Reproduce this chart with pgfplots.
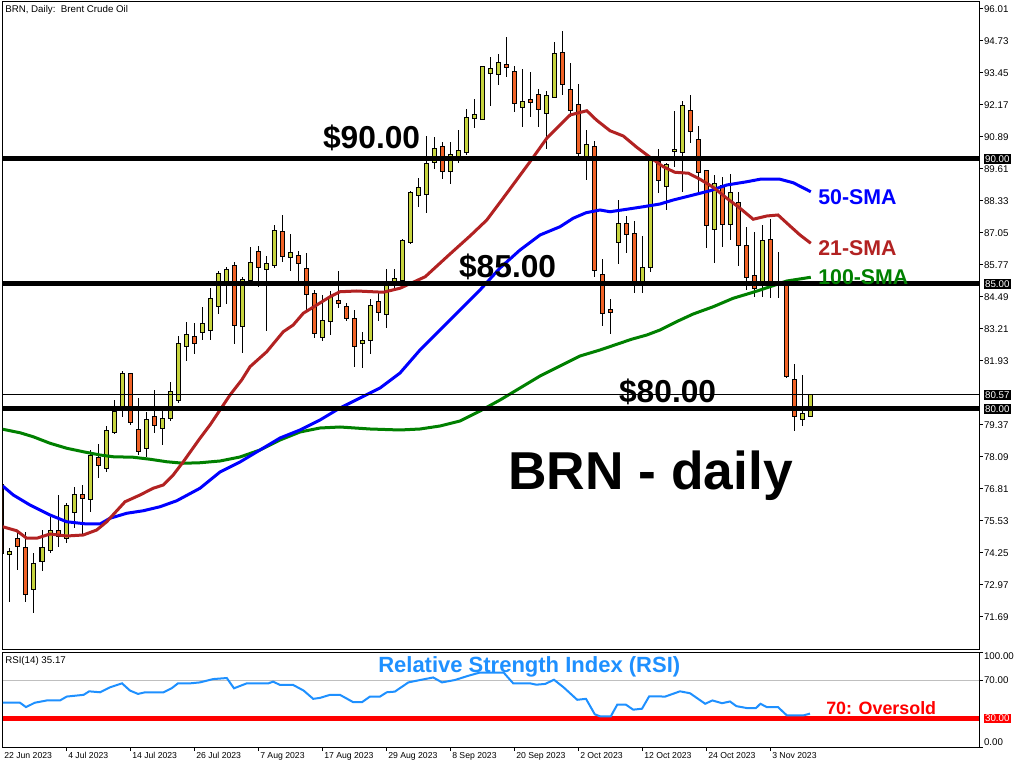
\documentclass[border=0pt]{standalone}
\usepackage{pgfplots}
\pgfplotsset{compat=1.18}
\usepackage{pgfplotstable}
\usepackage{fontspec}
\setmainfont{Liberation Sans}

\definecolor{bullc}{RGB}{198,212,62}
\definecolor{bearc}{RGB}{240,98,38}
\definecolor{sma21}{RGB}{178,34,34}
\definecolor{sma50}{RGB}{0,0,255}
\definecolor{sma100}{RGB}{0,128,0}
\definecolor{rsic}{RGB}{30,144,255}

\newcommand\tl{\fontsize{7.3}{8}\selectfont}
\newcommand\dl{\fontsize{6.5}{7}\selectfont}

% BRN daily candles: bar index, open, high, low, close
\pgfplotstableread{
i O H L C
0 76.96 77.05 74.10 74.23
1 74.20 74.45 72.30 74.30
2 74.80 75.03 73.56 74.50
3 74.47 75.09 72.29 72.60
4 72.80 74.23 71.85 73.80
5 73.90 75.16 73.53 74.47
6 74.33 75.67 74.23 75.13
7 75.13 76.56 74.49 74.90
8 74.83 76.23 74.65 76.12
9 75.85 76.89 75.23 76.55
10 76.55 76.96 75.00 76.43
11 76.40 78.36 75.89 78.12
12 78.03 78.60 77.25 77.75
13 77.63 79.32 77.49 79.12
14 79.09 80.36 79.00 79.89
15 80.09 81.52 79.69 81.43
16 81.39 81.44 79.36 79.45
17 79.16 80.43 78.16 78.29
18 78.43 79.89 78.07 79.56
19 79.67 80.76 79.05 79.33
20 79.23 80.12 78.56 79.59
21 79.63 81.09 79.53 80.67
22 80.36 82.92 80.25 82.63
23 82.53 83.48 81.93 82.96
24 82.87 83.43 82.19 82.61
25 83.07 84.09 82.76 83.40
26 83.15 84.83 82.76 84.43
27 84.13 85.53 83.80 85.40
28 85.13 85.69 84.20 85.59
29 85.72 85.89 82.60 83.33
30 83.33 85.29 82.25 85.16
31 85.13 86.49 84.96 85.83
32 86.28 86.52 84.87 85.65
33 85.59 86.12 83.13 85.83
34 85.75 87.36 85.65 87.12
35 87.07 87.76 85.89 86.09
36 86.07 87.00 85.53 86.23
37 86.12 86.32 85.13 85.83
38 85.63 86.23 83.96 84.59
39 84.59 84.76 82.83 83.01
40 82.87 84.56 82.73 83.52
41 83.51 84.73 82.96 84.49
42 84.32 85.53 84.03 84.23
43 84.09 84.23 83.53 83.63
44 83.60 83.96 81.69 82.53
45 82.63 83.09 81.63 82.72
46 82.75 84.40 82.20 84.15
47 84.27 84.63 83.53 83.87
48 83.79 85.60 83.25 84.92
49 85.03 85.60 84.76 85.20
50 85.16 86.80 85.09 86.72
51 86.67 88.72 86.60 88.63
52 88.56 89.23 88.09 88.83
53 88.59 90.92 87.85 89.80
54 89.85 90.89 89.60 90.39
55 90.47 90.69 89.19 89.52
56 89.52 90.69 89.00 90.16
57 89.96 91.16 89.83 90.32
58 90.25 91.99 90.16 91.63
59 91.63 92.40 91.23 91.76
60 91.59 93.70 91.55 93.67
61 93.43 94.09 92.12 93.63
62 93.39 94.20 92.96 93.83
63 93.76 94.89 93.27 93.67
64 93.47 93.72 91.89 92.23
65 92.07 93.59 91.27 92.31
66 92.39 93.49 91.69 92.29
67 92.55 92.79 91.27 91.99
68 91.83 92.73 90.39 92.55
69 92.47 94.67 92.43 94.20
70 94.23 95.12 92.56 92.99
71 92.76 93.83 91.69 91.96
72 92.15 93.00 90.09 90.23
73 90.09 91.16 89.16 90.55
74 90.49 90.72 85.29 85.53
75 85.36 85.99 83.33 83.83
76 83.96 84.40 82.99 83.87
77 86.69 88.36 85.79 87.43
78 87.43 87.72 86.23 86.99
79 87.00 87.51 84.63 85.05
80 85.05 86.92 84.63 85.67
81 85.67 90.10 85.50 90.00
82 89.89 90.39 88.63 89.16
83 88.92 89.85 87.96 89.79
84 90.31 91.93 89.67 90.39
85 90.25 92.33 88.69 92.12
86 91.92 92.56 90.63 91.13
87 90.76 91.32 88.69 89.45
88 89.52 89.56 86.45 87.33
89 87.19 89.36 85.83 89.00
90 88.92 89.27 86.49 87.39
91 87.39 89.39 86.76 88.63
92 88.23 88.67 85.73 86.53
93 86.52 87.29 84.76 85.27
94 85.32 87.07 84.47 84.83
95 85.09 87.36 84.49 86.72
96 86.76 87.59 84.43 85.05
97 85.10 86.27 84.45 85.05
98 85.03 85.10 81.25 81.30
99 81.16 81.80 79.13 79.72
100 79.59 81.36 79.33 79.80
101 79.72 80.60 79.72 80.57
}\ohlc

\begin{document}
\begin{tikzpicture}
\fill[white] (0,0) rectangle (768pt,576pt);
\useasboundingbox (0,0) rectangle (768pt,576pt);

% ---------- price panel ----------
\begin{axis}[
  at={(2.25pt,89.25pt)}, anchor=south west, scale only axis,
  width=732pt, height=485.25pt,
  xmin=0.125, xmax=122.125, ymin=70.40, ymax=96.28,
  clip mode=individual,
  axis line style={line width=0.75pt},
  xtick=\empty,
  ytick={71.69,72.97,74.25,75.53,76.81,78.09,79.37,81.93,83.21,84.49,85.77,87.05,88.33,89.61,90.89,92.17,93.45,94.73,96.01},
  ytick pos=right, yticklabels={,,},
  tick align=outside, major tick length=3pt,
  tick style={black, line width=0.75pt},
  candle/.style={draw=none, mark=none, error bars/.cd, y dir=both, y explicit, error mark=none},
]
% wicks
\addplot[candle, error bar style={draw=black, line width=0.75pt}]
  table[x=i, y expr={(\thisrow{H}+\thisrow{L})/2}, y error expr={(\thisrow{H}-\thisrow{L})/2}] {\ohlc};
% body outlines
\addplot[candle, error bar style={draw=black, line width=3.75pt}]
  table[x=i, y expr={(\thisrow{O}+\thisrow{C})/2}, y error expr={abs(\thisrow{C}-\thisrow{O})/2+0.03}] {\ohlc};
% up bodies
\addplot[restrict y to domain=50:120, candle, error bar style={draw=bullc, line width=2.25pt}]
  table[x=i, y expr={\thisrow{C}>=\thisrow{O} ? (\thisrow{O}+\thisrow{C})/2 : 0},
        y error expr={max(abs(\thisrow{C}-\thisrow{O})/2-0.01,0.001)}] {\ohlc};
% down bodies
\addplot[restrict y to domain=50:120, candle, error bar style={draw=bearc, line width=2.25pt}]
  table[x=i, y expr={\thisrow{C}<\thisrow{O} ? (\thisrow{O}+\thisrow{C})/2 : 0},
        y error expr={max(abs(\thisrow{C}-\thisrow{O})/2-0.01,0.001)}] {\ohlc};

% moving averages
\addplot[sma100, line width=2.25pt] coordinates {
(0.09,79.19) (2.25,79.05) (3.9,78.89) (6,78.63) (8.09,78.43) (10.16,78.29) (12.25,78.16)
(13.9,78.09) (16.4,78.07) (18.5,77.99) (20.6,77.89) (22.66,77.83) (24.75,77.85) (27.25,77.92)
(29.75,78.08) (32.25,78.36) (34.75,78.76) (37.25,79.08) (39.75,79.24) (42.25,79.28) (46,79.2)
(49.75,79.16) (52.25,79.2) (54.75,79.32) (57.25,79.52) (59.75,79.92) (62.25,80.36) (64.75,80.84)
(67.25,81.32) (69.75,81.72) (72.25,82.12) (74.75,82.36) (78.7,82.79) (80.6,82.96) (82.25,83.16)
(84.3,83.49) (86.4,83.8) (88.9,84.09) (91.4,84.43) (93.9,84.67) (96,84.89) (98.1,85.12) (101.1,85.27)};
\addplot[sma50, line width=2.25pt] coordinates {
(0.09,76.92) (1.41,76.56) (3.5,76.16) (6,75.76) (8.09,75.49) (10.6,75.4) (12.25,75.4)
(13.5,75.63) (15.6,75.83) (17.66,75.93) (19.75,76.09) (21.84,76.33) (24.75,76.83) (27.25,77.48)
(29.75,77.88) (32.25,78.36) (34.75,78.84) (37.25,79.16) (39.75,79.56) (42.25,80.04) (44.75,80.44)
(47.25,80.84) (49.75,81.44) (52.25,82.36) (54.75,83.16) (57.25,83.96) (59.75,84.76) (62.25,85.64)
(64.75,86.36) (67.25,86.96) (69.75,87.29) (71.4,87.63) (73,87.85) (74.75,87.96) (76,87.89)
(78.1,87.99) (80.16,88.09) (82.25,88.2) (83.9,88.36) (86.4,88.56) (88.5,88.73) (90.6,88.96)
(93.1,89.09) (94.75,89.19) (97.25,89.19) (98.9,89.05) (101.1,88.69)};
\addplot[sma21, line width=2.25pt] coordinates {
(0.09,75.29) (1.84,75.13) (3.09,74.83) (4.34,74.83) (6,75.0) (8.09,74.92) (10.16,74.96)
(11.84,75.16) (13.09,75.49) (15.38,76.29) (17.25,76.56) (18.9,76.83) (20.16,76.96) (21.4,77.36)
(22.66,77.89) (24.75,78.83) (26,79.36) (27.25,79.96) (28.5,80.56) (29.96,81.16) (31,81.69)
(33.09,82.29) (35.16,83.09) (36.4,83.36) (37.66,83.83) (39.34,84.16) (41,84.49) (42.25,84.69)
(44.34,84.72) (47.66,84.67) (49.75,84.83) (52.9,85.29) (56,86.2) (58.5,86.92) (60.6,87.56)
(63.1,88.63) (66,89.89) (68.1,90.83) (69.75,91.36) (71,91.76) (73.1,91.93) (74.3,91.56)
(76,91.13) (77.66,90.92) (79.34,90.47) (81,90.07) (82.66,89.69) (84.1,89.47) (85.8,89.43)
(87.25,89.19) (88.9,88.87) (90.6,88.43) (92.25,88.03) (93.9,87.59) (95.6,87.72) (97,87.76)
(98.5,87.32) (99.75,86.96) (101.1,86.63)};

% horizontal levels
\addplot[black, line width=0.75pt] coordinates {(0.125,80.57) (122.125,80.57)};
\addplot[black, line width=3.75pt] coordinates {(0.125,90) (122.125,90)};
\addplot[black, line width=3.75pt] coordinates {(0.125,85) (122.125,85)};
\addplot[black, line width=3.75pt] coordinates {(0.125,80) (122.125,80)};

% price scale labels
\pgfplotsinvokeforeach{71.69,72.97,74.25,75.53,76.81,78.09,79.37,81.93,83.21,84.49,85.77,87.05,88.33,89.61,90.89,92.17,93.45,94.73,96.01}{
  \node[anchor=west, inner sep=0pt, font=\tl, xshift=3.6pt] at (axis cs:122.125,#1) {#1};
}
\pgfplotsinvokeforeach{90.00,85.00,80.57,80.00}{
  \node[anchor=west, fill=black, text=white, inner xsep=1.2pt, inner ysep=1pt, font=\tl, xshift=3.2pt] at (axis cs:122.125,#1) {#1};
}

\node[anchor=base west, inner sep=0pt, font=\tl] at (axis cs:0.375,95.84) {BRN, Daily:\ \ Brent Crude Oil};

\node[anchor=base west, inner sep=0pt, font=\fontsize{23.8}{26}\selectfont\bfseries] at (axis cs:40.1,90.40) {\$90.00};
\node[anchor=base west, inner sep=0pt, font=\fontsize{23.8}{26}\selectfont\bfseries] at (axis cs:57.1,85.24) {\$85.00};
\node[anchor=base west, inner sep=0pt, font=\fontsize{23.8}{26}\selectfont\bfseries] at (axis cs:77.1,80.24) {\$80.00};
\node[anchor=base west, inner sep=0pt, font=\fontsize{40}{44}\selectfont\bfseries] at (axis cs:63.25,76.76) {BRN - daily};
\node[anchor=base west, inner sep=0pt, text=sma50, font=\fontsize{16}{18}\selectfont\bfseries] at (axis cs:102,88.16) {50-SMA};
\node[anchor=base west, inner sep=0pt, text=sma21, font=\fontsize{16}{18}\selectfont\bfseries] at (axis cs:102,86.12) {21-SMA};
\node[anchor=base west, inner sep=0pt, text=sma100, font=\fontsize{16}{18}\selectfont\bfseries] at (axis cs:102,84.96) {100-SMA};
\end{axis}

% ---------- RSI panel ----------
\begin{axis}[
  at={(2.25pt,15.75pt)}, anchor=south west, scale only axis,
  width=732pt, height=71.25pt,
  xmin=0.125, xmax=122.125, ymin=0, ymax=100,
  clip mode=individual,
  axis line style={line width=0.75pt},
  xtick={8,16,...,96}, xtick pos=bottom, xticklabels={,,},
  ytick={0,70,100}, ytick pos=right, yticklabels={,,},
  tick align=outside, major tick length=3pt,
  tick style={black, line width=0.75pt},
]
\addplot[black!25, line width=0.75pt] coordinates {(0.125,70) (122.125,70)};
\addplot[red, line width=3.75pt] coordinates {(0.125,30) (122.125,30)};
\addplot[rsic, line width=1.5pt] coordinates {
(0.09,46.6) (2.25,46.6) (3,42.0) (4.1,46.6) (5.6,49.0) (7.25,49.0) (8.1,53.1) (10.2,54.9)
(10.9,58.6) (12.25,57.6) (13.5,62.8) (15,67.0) (16,59.4) (17,55.9) (17.9,57.6) (20.2,57.6)
(21.2,61.8) (22,67.0) (23.5,67.0) (24.75,68.0) (26.4,71.5) (28.1,72.6) (29,61.8) (30.6,67.0)
(33.3,67.0) (33.9,68.8) (34.75,65.3) (36.4,65.3) (37.7,59.4) (38.9,50.7) (39.75,51.7) (41,54.9)
(42.25,54.9) (43.9,47.2) (45,47.2) (46,53.1) (47.25,53.1) (48.1,57.6) (49.1,58.3) (50.8,68.0)
(52.25,70.5) (53.9,73.2) (55,68.0) (56.6,70.5) (58.3,75.0) (59.75,78.4) (62.7,78.4) (63.9,67.0)
(66,67.0) (66.8,65.6) (67.9,66.4) (69,70.8) (70.2,62.8) (71.9,49.7) (73,50.7) (74.1,34.4)
(74.75,32.3) (76.1,32.3) (76.9,44.5) (78,44.5) (78.9,39.3) (80,40.3) (80.9,53.4) (82.9,53.1)
(84.75,58.6) (86,56.6) (87.9,45.5) (88.8,49.0) (90,46.1) (91,47.9) (91.8,43.0) (93.1,41.0)
(94.25,41.0) (94.8,45.5) (95.6,42.0) (97,42.0) (98.1,33.3) (100.2,33.3) (101,35.17)};

\node[anchor=base west, inner sep=0pt, font=\tl] at (axis cs:0.375,87.4) {RSI(14) 35.17};
\node[anchor=base west, inner sep=0pt, text=rsic, font=\fontsize{16.5}{18}\selectfont\bfseries] at (axis cs:47,78.9) {Relative Strength Index (RSI)};
\node[anchor=base west, inner sep=0pt, text=red, font=\fontsize{13.4}{15}\selectfont\bfseries] at (axis cs:103,34.7) {70: Oversold};

\node[anchor=west, inner sep=0pt, font=\tl, xshift=3.6pt] at (axis cs:122.125,95.8) {100.00};
\node[anchor=west, inner sep=0pt, font=\tl, xshift=3.6pt] at (axis cs:122.125,70) {70.00};
\node[anchor=west, inner sep=0pt, font=\tl, xshift=3.6pt] at (axis cs:122.125,5.3) {0.00};
\node[anchor=west, fill=red, text=white, inner xsep=1.2pt, inner ysep=1pt, font=\tl, xshift=3.2pt] at (axis cs:122.125,30) {30.00};

% date scale
\node[anchor=north west, inner sep=0pt, font=\dl, yshift=-4pt, xshift=0.75pt] at (axis cs:0.125,0) {22 Jun 2023};
\node[anchor=north west, inner sep=0pt, font=\dl, yshift=-4pt, xshift=1.5pt] at (axis cs:8,0) {4 Jul 2023};
\node[anchor=north west, inner sep=0pt, font=\dl, yshift=-4pt, xshift=1.5pt] at (axis cs:16,0) {14 Jul 2023};
\node[anchor=north west, inner sep=0pt, font=\dl, yshift=-4pt, xshift=1.5pt] at (axis cs:24,0) {26 Jul 2023};
\node[anchor=north west, inner sep=0pt, font=\dl, yshift=-4pt, xshift=1.5pt] at (axis cs:32,0) {7 Aug 2023};
\node[anchor=north west, inner sep=0pt, font=\dl, yshift=-4pt, xshift=1.5pt] at (axis cs:40,0) {17 Aug 2023};
\node[anchor=north west, inner sep=0pt, font=\dl, yshift=-4pt, xshift=1.5pt] at (axis cs:48,0) {29 Aug 2023};
\node[anchor=north west, inner sep=0pt, font=\dl, yshift=-4pt, xshift=1.5pt] at (axis cs:56,0) {8 Sep 2023};
\node[anchor=north west, inner sep=0pt, font=\dl, yshift=-4pt, xshift=1.5pt] at (axis cs:64,0) {20 Sep 2023};
\node[anchor=north west, inner sep=0pt, font=\dl, yshift=-4pt, xshift=1.5pt] at (axis cs:72,0) {2 Oct 2023};
\node[anchor=north west, inner sep=0pt, font=\dl, yshift=-4pt, xshift=1.5pt] at (axis cs:80,0) {12 Oct 2023};
\node[anchor=north west, inner sep=0pt, font=\dl, yshift=-4pt, xshift=1.5pt] at (axis cs:88,0) {24 Oct 2023};
\node[anchor=north west, inner sep=0pt, font=\dl, yshift=-4pt, xshift=1.5pt] at (axis cs:96,0) {3 Nov 2023};
\end{axis}
\end{tikzpicture}
\end{document}
